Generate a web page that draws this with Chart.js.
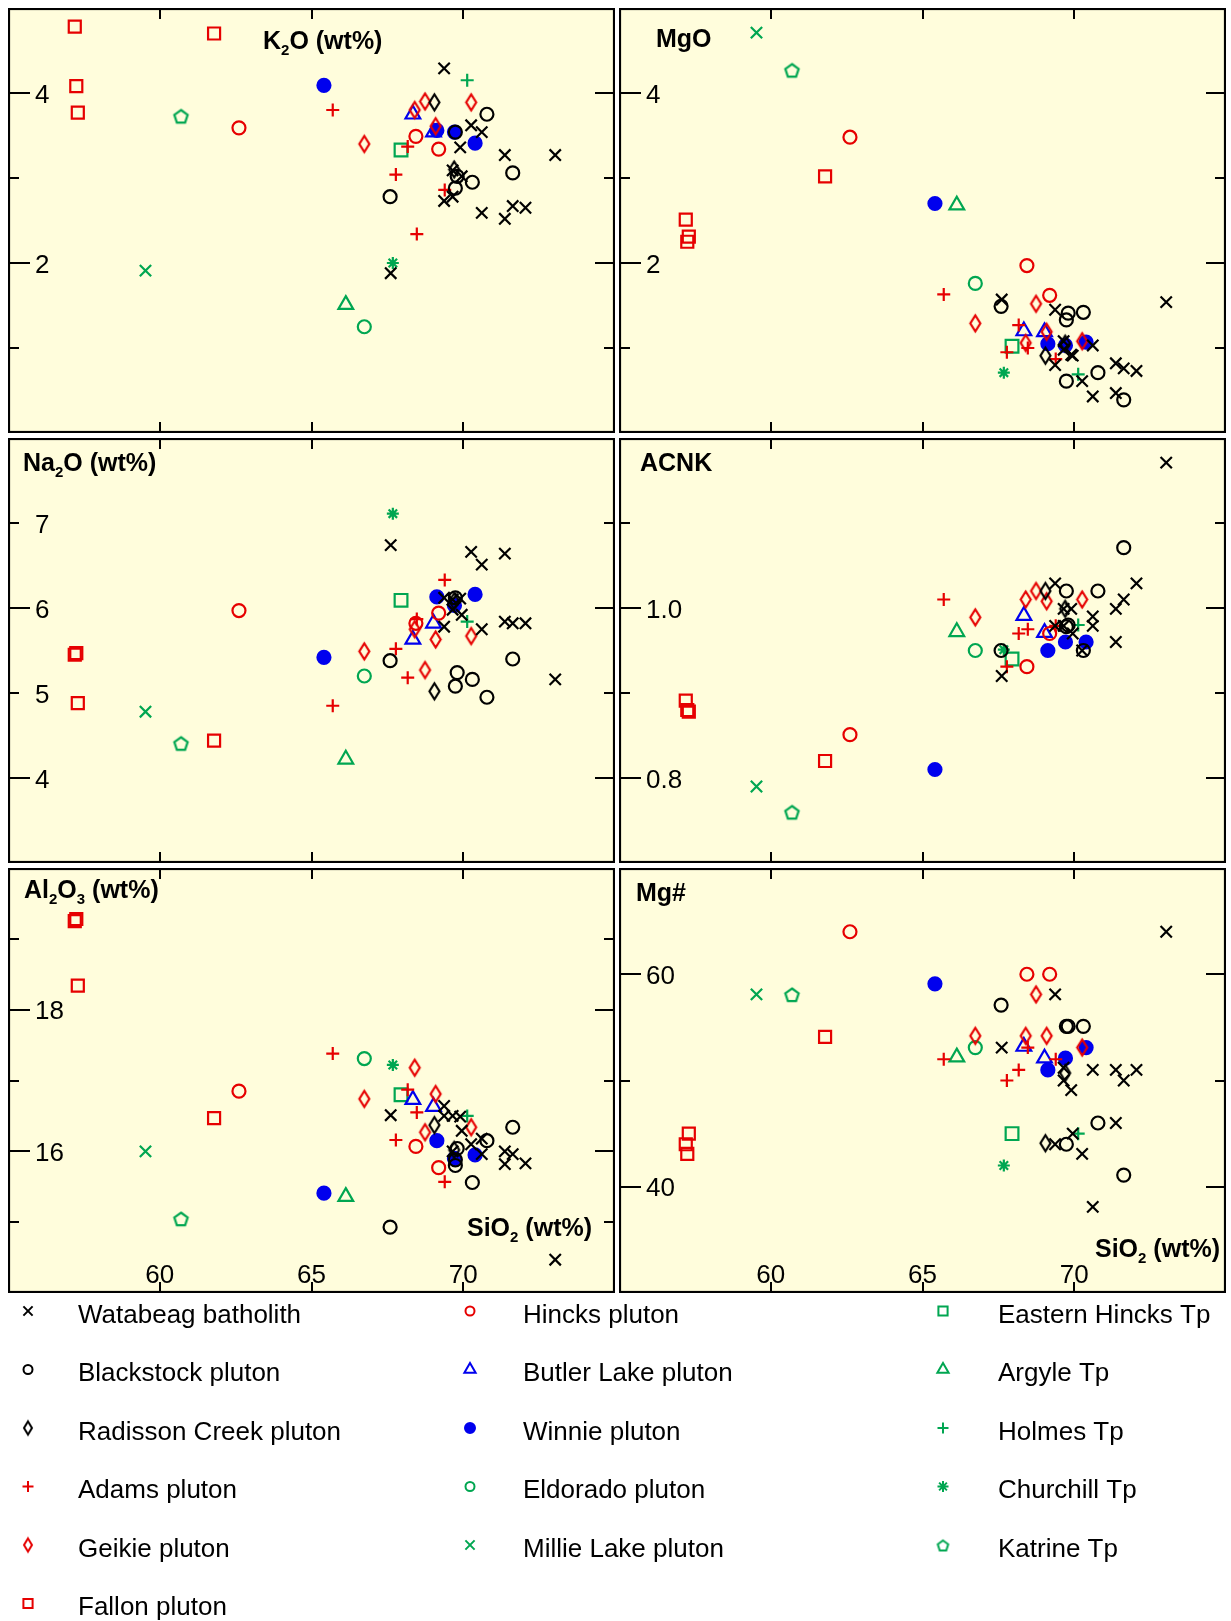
<!DOCTYPE html>
<html>
<head>
<meta charset="utf-8">
<script src="https://cdn.jsdelivr.net/npm/chart.js"></script>
<style>
  html, body { margin: 0; padding: 0; background: #ffffff; }
  #page { position: relative; width: 1231px; height: 1621px; overflow: hidden; }
  #page canvas { position: absolute; }
</style>
</head>
<body>
<div id="page"></div>
<script>
// one row per sample: SiO2, K2O, MgO, Na2O, ACNK, Al2O3, Mg#
const watabeag = [
  [67.61, 1.88, 1.57, 6.74, 0.920, 16.51, 53.1],
  [73.03, 3.27, 1.54, 5.16, 1.171, 14.47, 64.0],
  [69.37, 4.29, 1.45, 6.12, 1.029, 16.64, 58.1],
  [69.37, 2.73, 0.80, 5.78, 0.979, 16.50, 44.0],
  [69.65, 3.09, 1.08, 5.98, 0.999, 16.50, 51.2],
  [69.65, 2.78, 0.98, 6.10, 0.979, 16.00, 50.0],
  [69.90, 3.36, 0.92, 6.11, 0.999, 16.49, 49.1],
  [69.95, 3.02, 0.91, 5.92, 0.970, 16.29, 45.0],
  [70.26, 3.62, 0.61, 6.66, 0.950, 16.10, 43.1],
  [70.61, 3.54, 1.03, 6.51, 0.990, 16.18, 51.0],
  [70.61, 2.59, 0.43, 5.75, 0.979, 15.96, 38.1],
  [71.37, 3.27, 0.82, 6.64, 0.960, 16.00, 51.0],
  [71.37, 2.52, 0.47, 5.84, 0.999, 15.82, 46.0],
  [71.63, 2.67, 0.76, 5.82, 1.010, 15.96, 50.0],
  [72.05, 2.65, 0.73, 5.82, 1.029, 15.83, 51.0]
];
const blackstock = [
  [67.59, 2.78, 1.49, 5.38, 0.950, 14.93, 57.1],
  [69.74, 2.88, 1.33, 5.08, 1.020, 15.80, 55.1],
  [69.80, 3.02, 1.41, 5.24, 0.980, 16.04, 55.1],
  [69.74, 3.54, 0.61, 6.12, 0.978, 15.88, 44.0],
  [70.30, 2.95, 1.42, 5.16, 0.950, 15.56, 55.1],
  [70.78, 3.75, 0.71, 4.95, 1.020, 16.15, 46.0],
  [71.63, 3.06, 0.39, 5.40, 1.071, 16.34, 41.1]
];
const radisson = [
  [69.05, 3.89, 0.91, 5.02, 1.020, 16.37, 44.1],
  [69.70, 3.10, 1.05, 6.08, 0.999, 16.02, 50.7]
];
const adams = [
  [65.70, 3.80, 1.63, 4.85, 1.010, 17.38, 52.0],
  [67.78, 3.04, 0.95, 5.52, 0.931, 16.16, 50.0],
  [68.17, 3.37, 1.27, 5.18, 0.970, 16.87, 51.0],
  [68.47, 2.34, 1.00, 5.87, 0.975, 16.55, 53.1],
  [69.39, 2.86, 0.87, 6.33, 0.979, 15.57, 52.0]
];
const geikie = [
  [66.74, 3.40, 1.29, 5.49, 0.989, 16.74, 54.2],
  [68.40, 3.80, 1.06, 5.75, 1.010, 17.18, 54.2],
  [68.74, 3.90, 1.52, 5.27, 1.020, 16.27, 58.1],
  [69.09, 3.61, 1.19, 5.63, 1.008, 16.81, 54.2],
  [70.26, 3.89, 1.08, 5.67, 1.010, 16.34, 53.1]
];
const fallon = [
  [57.20, 4.78, 2.51, 5.45, 0.891, 19.25, 44.0],
  [57.25, 4.08, 2.25, 5.47, 0.880, 19.28, 43.1],
  [57.30, 3.77, 2.31, 4.88, 0.878, 18.34, 45.0],
  [61.79, 4.70, 3.02, 4.44, 0.820, 16.47, 54.1]
];
const hincks = [
  [62.61, 3.59, 3.48, 5.97, 0.851, 16.85, 64.0],
  [68.44, 3.49, 1.97, 5.82, 0.931, 16.07, 60.0],
  [69.19, 3.34, 1.62, 5.94, 0.970, 15.77, 60.0]
];
const butlerLake = [
  [68.34, 3.75, 1.20, 5.63, 0.991, 16.73, 53.2],
  [69.02, 3.54, 1.19, 5.82, 0.971, 16.63, 52.1]
];
const winnie = [
  [65.41, 4.09, 2.70, 5.42, 0.810, 15.41, 59.1],
  [69.13, 3.56, 1.05, 6.13, 0.950, 16.15, 51.0],
  [69.71, 3.54, 1.03, 6.03, 0.960, 15.90, 52.1],
  [70.39, 3.41, 1.07, 6.16, 0.960, 15.95, 53.1]
];
const eldorado = [[66.74, 1.25, 1.76, 5.20, 0.950, 17.31, 53.1]];
const millieLake = [[59.53, 1.91, 4.71, 4.78, 0.790, 16.00, 58.1]];
const easternHincks = [[67.95, 3.33, 1.02, 6.09, 0.940, 16.80, 45.0]];
const argyle = [[66.13, 1.51, 2.68, 4.22, 0.972, 15.36, 52.2]];
const holmes = [[70.13, 4.15, 0.69, 5.84, 0.980, 16.50, 45.0]];
const churchill = [[67.68, 2.00, 0.71, 7.11, 0.951, 17.22, 42.0]];
const katrine = [[60.70, 3.73, 4.27, 4.41, 0.760, 15.05, 58.1]];

const seriesNames = ['Watabeag batholith', 'Blackstock pluton', 'Radisson Creek pluton', 'Adams pluton',
  'Geikie pluton', 'Fallon pluton', 'Hincks pluton', 'Butler Lake pluton', 'Winnie pluton',
  'Eldorado pluton', 'Millie Lake pluton', 'Eastern Hincks Tp', 'Argyle Tp', 'Holmes Tp',
  'Churchill Tp', 'Katrine Tp'];
const seriesRows = [watabeag, blackstock, radisson, adams, geikie, fallon, hincks, butlerLake, winnie,
  eldorado, millieLake, easternHincks, argyle, holmes, churchill, katrine];

// axis ranges and tick labels
const xRange = [55, 75];
const xTickLabels = [60, 65, 70];
const k2oTicks = [2, 4];
const mgoTicks = [2, 4];
const na2oTicks = [4, 5, 6, 7];
const acnkTicks = [0.8, 1.0];
const al2o3Ticks = [16, 18];
const mgNumTicks = [40, 60];

// ---------- styles ----------
const FONT = '"Liberation Sans", Arial, Helvetica, sans-serif';
const BG = '#fffddc';
const BLACK = '#000000', RED = '#e60000', BLUE = '#0000ee', GREEN = '#00a651';

function diamondImg(color, w, h, lw) {
  const c = document.createElement('canvas');
  c.width = Math.ceil(w + lw * 2 + 2); c.height = Math.ceil(h + lw * 2 + 2);
  const g = c.getContext('2d');
  const cx = c.width / 2, cy = c.height / 2;
  g.strokeStyle = color; g.lineWidth = lw;
  g.beginPath();
  g.moveTo(cx, cy - h / 2); g.lineTo(cx + w / 2, cy); g.lineTo(cx, cy + h / 2); g.lineTo(cx - w / 2, cy);
  g.closePath(); g.stroke();
  return c;
}
function pentagonImg(color, r, lw) {
  const s = Math.ceil(r * 2 + lw * 2 + 2);
  const c = document.createElement('canvas');
  c.width = s; c.height = s;
  const g = c.getContext('2d');
  g.strokeStyle = color; g.lineWidth = lw;
  g.beginPath();
  for (let k = 0; k < 5; k++) {
    const a = -Math.PI / 2 + k * 2 * Math.PI / 5;
    const px = s / 2 + r * Math.cos(a), py = s / 2 + 1 + r * Math.sin(a);
    k ? g.lineTo(px, py) : g.moveTo(px, py);
  }
  g.closePath(); g.stroke();
  return c;
}

// marker, colour, filled, radius in panel, radius in legend, legend image
const seriesStyles = [
  ['crossRot', BLACK, false, 8, 6.5],
  ['circle', BLACK, false, 6.5, 4.5],
  [diamondImg(BLACK, 10, 16, 2.2), BLACK, false, 7, 0, diamondImg(BLACK, 8, 13, 2)],
  ['cross', RED, false, 6.5, 5.5],
  [diamondImg(RED, 10, 16, 2.2), RED, false, 7, 0, diamondImg(RED, 8, 13, 2)],
  ['rect', RED, false, 8.5, 6.5],
  ['circle', RED, false, 6.5, 4.5],
  ['triangle', BLUE, false, 8.5, 6.5],
  ['circle', BLUE, true, 6.5, 5],
  ['circle', GREEN, false, 6.5, 4.5],
  ['crossRot', GREEN, false, 8, 6.5],
  ['rect', GREEN, false, 9, 6.5],
  ['triangle', GREEN, false, 8.5, 6.5],
  ['cross', GREEN, false, 6.5, 5.5],
  ['star', GREEN, false, 6, 5.5],
  [pentagonImg(GREEN, 7, 2.2), GREEN, false, 7, 0, pentagonImg(GREEN, 5.5, 2)]
];

// panel layout: column index into rows, y range, ticks, title pieces
const panels = [
  { col: 1, min: 0, max: 5, labels: k2oTicks, major: [2, 4], minor: [1, 3], dec: 0,
    title: [['K', 0], ['2', 1], ['O (wt%)', 0]], tx: 255, ty: 32, left: 8, top: 8 },
  { col: 2, min: 0, max: 5, labels: mgoTicks, major: [2, 4], minor: [1, 3], dec: 0,
    title: [['MgO', 0]], tx: 37, ty: 30, left: 619, top: 8 },
  { col: 3, min: 3, max: 8, labels: na2oTicks, major: [4, 6], minor: [5, 7], dec: 0,
    title: [['Na', 0], ['2', 1], ['O (wt%)', 0]], tx: 15, ty: 24, left: 8, top: 438 },
  { col: 4, min: 0.7, max: 1.2, labels: acnkTicks, major: [0.8, 1.0], minor: [0.9, 1.1], dec: 1,
    title: [['ACNK', 0]], tx: 21, ty: 24, left: 619, top: 438 },
  { col: 5, min: 14, max: 20, labels: al2o3Ticks, major: [16, 18], minor: [15, 17, 19], dec: 0,
    title: [['Al', 0], ['2', 1], ['O', 0], ['3', 1], [' (wt%)', 0]],
    tx: 16, ty: 21, left: 8, top: 868, xLabels: true, sx: 459, sy: 359 },
  { col: 6, min: 30, max: 70, labels: mgNumTicks, major: [40, 60], minor: [50], dec: 0,
    title: [['Mg#', 0]], tx: 17, ty: 24, left: 619, top: 868, xLabels: true, sx: 476, sy: 380 }
];
const PW = 607, PH = 425;

function drawRich(ctx, parts, x, yMid, size) {
  const base = yMid + size * 0.36;
  let cx = x;
  for (const [t, sub] of parts) {
    ctx.font = 'bold ' + (sub ? Math.round(size * 0.6) : size) + 'px ' + FONT;
    ctx.fillText(t, cx, sub ? base + size * 0.22 : base);
    cx += ctx.measureText(t).width;
  }
}

function framePlugin(p) {
  return {
    id: 'frame',
    beforeDraw(chart) {
      const { ctx, chartArea: a } = chart;
      ctx.save();
      ctx.fillStyle = BG;
      ctx.fillRect(a.left, a.top, a.right - a.left, a.bottom - a.top);
      ctx.restore();
    },
    beforeDatasetsDraw(chart) {
      const { ctx, chartArea: a, scales: { x, y } } = chart;
      ctx.save();
      ctx.strokeStyle = '#000';
      ctx.lineWidth = 2;
      const seg = (x1, y1, x2, y2) => { ctx.beginPath(); ctx.moveTo(x1, y1); ctx.lineTo(x2, y2); ctx.stroke(); };
      // x ticks, inward on top and bottom
      for (const v of xTickLabels) {
        const px = Math.round(x.getPixelForValue(v));
        seg(px, a.top, px, a.top + 11);
        seg(px, a.bottom, px, a.bottom - 11);
      }
      for (const v of p.major) {
        const py = Math.round(y.getPixelForValue(v));
        seg(a.left, py, a.left + 22, py);
        seg(a.right, py, a.right - 20, py);
      }
      for (const v of p.minor) {
        const py = Math.round(y.getPixelForValue(v));
        seg(a.left, py, a.left + 11, py);
        seg(a.right, py, a.right - 11, py);
      }
      ctx.fillStyle = '#000';
      ctx.font = '26px ' + FONT;
      ctx.textAlign = 'left';
      ctx.textBaseline = 'alphabetic';
      for (const v of p.labels) {
        const py = y.getPixelForValue(v);
        ctx.fillText(v.toFixed(p.dec), a.left + 27, py + 9.5);
      }
      if (p.xLabels) {
        ctx.textAlign = 'center';
        for (const v of xTickLabels) {
          ctx.fillText(String(v), x.getPixelForValue(v), a.bottom - 10);
        }
        ctx.textAlign = 'left';
        drawRich(ctx, [['SiO', 0], ['2', 1], [' (wt%)', 0]], a.left + p.sx, a.top + p.sy, 25);
      }
      drawRich(ctx, p.title, a.left + p.tx, a.top + p.ty, 25);
      ctx.restore();
    },
    afterDraw(chart) {
      const { ctx, chartArea: a } = chart;
      ctx.save();
      ctx.strokeStyle = '#000';
      ctx.lineWidth = 2.2;
      ctx.strokeRect(a.left + 1, a.top + 1, a.right - a.left - 2, a.bottom - a.top - 2);
      ctx.restore();
    }
  };
}

const page = document.getElementById('page');

function addCanvas(left, top, w, h) {
  const c = document.createElement('canvas');
  c.width = w; c.height = h;
  c.style.left = left + 'px'; c.style.top = top + 'px';
  c.style.width = w + 'px'; c.style.height = h + 'px';
  page.appendChild(c);
  return c;
}

panels.forEach(p => {
  const canvas = addCanvas(p.left, p.top, PW, PH);
  const datasets = seriesNames.map((name, i) => {
    const st = seriesStyles[i];
    return {
      label: name,
      data: seriesRows[i].filter(r => r[p.col] != null).map(r => ({ x: r[0], y: r[p.col] })),
      pointStyle: st[0],
      pointRadius: st[3],
      pointBorderWidth: 2.2,
      pointBorderColor: st[1],
      pointBackgroundColor: st[2] ? st[1] : 'rgba(0,0,0,0)',
      showLine: false
    };
  });
  new Chart(canvas, {
    type: 'scatter',
    data: { datasets },
    options: {
      responsive: false,
      animation: false,
      devicePixelRatio: 1,
      events: [],
      layout: { padding: 0, autoPadding: false },
      clip: false,
      scales: {
        x: { type: 'linear', min: xRange[0], max: xRange[1], display: false },
        y: { type: 'linear', min: p.min, max: p.max, display: false }
      },
      plugins: { legend: { display: false }, tooltip: { enabled: false } }
    },
    plugins: [framePlugin(p)]
  });
});

// ---------- legend: 3 columns, filled top to bottom ----------
const legendCols = [[28, 78], [470, 523], [943, 998]];
const legendPerCol = [6, 5, 5];
const LEG_TOP = 1296;

const legendPlugin = {
  id: 'groupLegend',
  afterDraw(chart) {
    const ctx = chart.ctx;
    const drawPoint = Chart.helpers && Chart.helpers.drawPoint;
    let idx = 0;
    ctx.save();
    legendPerCol.forEach((n, c) => {
      for (let k = 0; k < n; k++, idx++) {
        const st = seriesStyles[idx];
        const my = 1311 + k * 58.5 - LEG_TOP;
        const mx = legendCols[c][0];
        ctx.strokeStyle = st[1];
        ctx.fillStyle = st[2] ? st[1] : 'rgba(0,0,0,0)';
        ctx.lineWidth = 2;
        const style = typeof st[0] === 'string' ? st[0] : st[5];
        if (drawPoint) {
          drawPoint(ctx, { pointStyle: style, radius: st[4] || 5, borderWidth: 2, rotation: 0 }, mx, my);
        } else {
          ctx.beginPath(); ctx.arc(mx, my, 4, 0, Math.PI * 2); ctx.fill(); ctx.stroke();
        }
        ctx.fillStyle = '#000';
        ctx.font = '26px ' + FONT;
        ctx.textAlign = 'left';
        ctx.textBaseline = 'alphabetic';
        ctx.fillText(seriesNames[idx], legendCols[c][1], my + 2 + 9.5);
      }
    });
    ctx.restore();
  }
};

const legCanvas = addCanvas(0, LEG_TOP, 1231, 1621 - LEG_TOP);
new Chart(legCanvas, {
  type: 'scatter',
  data: { datasets: [] },
  options: {
    responsive: false,
    animation: false,
    devicePixelRatio: 1,
    events: [],
    layout: { padding: 0, autoPadding: false },
    scales: { x: { display: false }, y: { display: false } },
    plugins: { legend: { display: false }, tooltip: { enabled: false } }
  },
  plugins: [legendPlugin]
});
</script>
</body>
</html>
